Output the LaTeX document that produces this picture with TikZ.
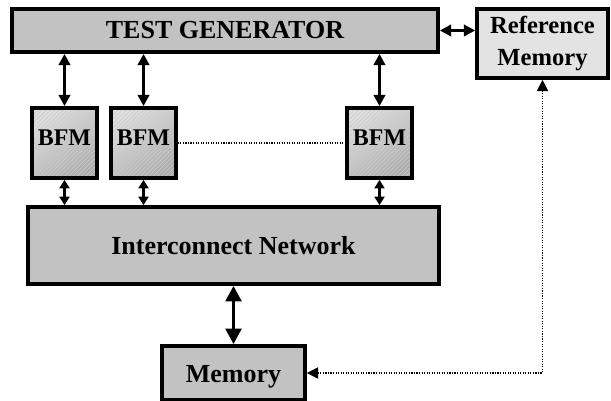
\documentclass[tikz,border=0pt]{standalone}
\usepackage{fontspec}
\setmainfont{Liberation Serif}
\usepackage{tikz}
\usetikzlibrary{arrows.meta, patterns}

\tikzset{
  blk/.style={draw, line width=2.6pt, fill=gray!48, font=\bfseries, inner sep=0pt},
  bfm/.style={draw, line width=2.6pt, inner sep=0pt,
    minimum width=1.625cm, minimum height=1.75cm,
    preaction={top color=gray!25, bottom color=gray!65, shading angle=35},
    preaction={pattern=north east lines, pattern color=gray!40},
    text depth=0.25cm, font=\fontsize{17}{19}\bfseries\selectfont},
  link/.style={line width=2.6pt, {Triangle[length=8pt,width=8pt]}-{Triangle[length=8pt,width=8pt]}},
  smalllink/.style={line width=2.4pt, {Triangle[length=6pt,width=7pt]}-{Triangle[length=6pt,width=7pt]}},
  dots/.style={densely dotted, line width=0.8pt}
}

\begin{document}
\begin{tikzpicture}

\useasboundingbox (0,0) rectangle (15.275,-10.025);

% top row
\node [blk, minimum width=10.65cm, minimum height=1.075cm,
  font=\fontsize{18.5}{20}\bfseries\selectfont] (tg) at (5.625,-0.7625) {TEST GENERATOR};
\node [blk, fill=gray!22, minimum width=3.275cm, minimum height=1.725cm, align=center,
  font=\fontsize{17.5}{23}\bfseries\selectfont] (refmem) at (13.5625,-1.0875) {Reference\\Memory};

% bus functional models
\node [bfm] (bfm1) at (1.6125,-3.575) {BFM};
\node [bfm] (bfm2) at (3.5875,-3.575) {BFM};
\node [bfm] (bfm3) at (9.4875,-3.575) {BFM};

% network and memory
\node [blk, minimum width=10.275cm, minimum height=1.925cm,
  font=\fontsize{18.5}{20}\bfseries\selectfont] (net) at (5.8375,-6.1375) {Interconnect Network};
\node [blk, minimum width=3.575cm, minimum height=1.35cm, text height=0.6cm,
  font=\fontsize{18.5}{20}\bfseries\selectfont] (mem) at (5.8375,-9.325) {Memory};

\draw [link] (tg.east) -- (tg.east -| refmem.west);
\draw [link] (bfm1.north |- tg.south) -- (bfm1.north);
\draw [link] (bfm2.north |- tg.south) -- (bfm2.north);
\draw [link] (bfm3.north |- tg.south) -- (bfm3.north);

\draw [smalllink] (bfm1.south) -- (bfm1.south |- net.north);
\draw [smalllink] (bfm2.south) -- (bfm2.south |- net.north);
\draw [smalllink] (bfm3.south) -- (bfm3.south |- net.north);

\draw [line width=2.6pt, {Triangle[length=11pt,width=11pt]}-{Triangle[length=11pt,width=11pt]}]
  (net.south) -- (mem.north);

\draw [dots] (bfm2.east) -- (bfm3.west);
\draw [dots, {Triangle[length=8pt,width=8pt]}-{Triangle[length=8pt,width=8pt]}]
  (mem.east) -| (refmem.south);

\end{tikzpicture}
\end{document}
